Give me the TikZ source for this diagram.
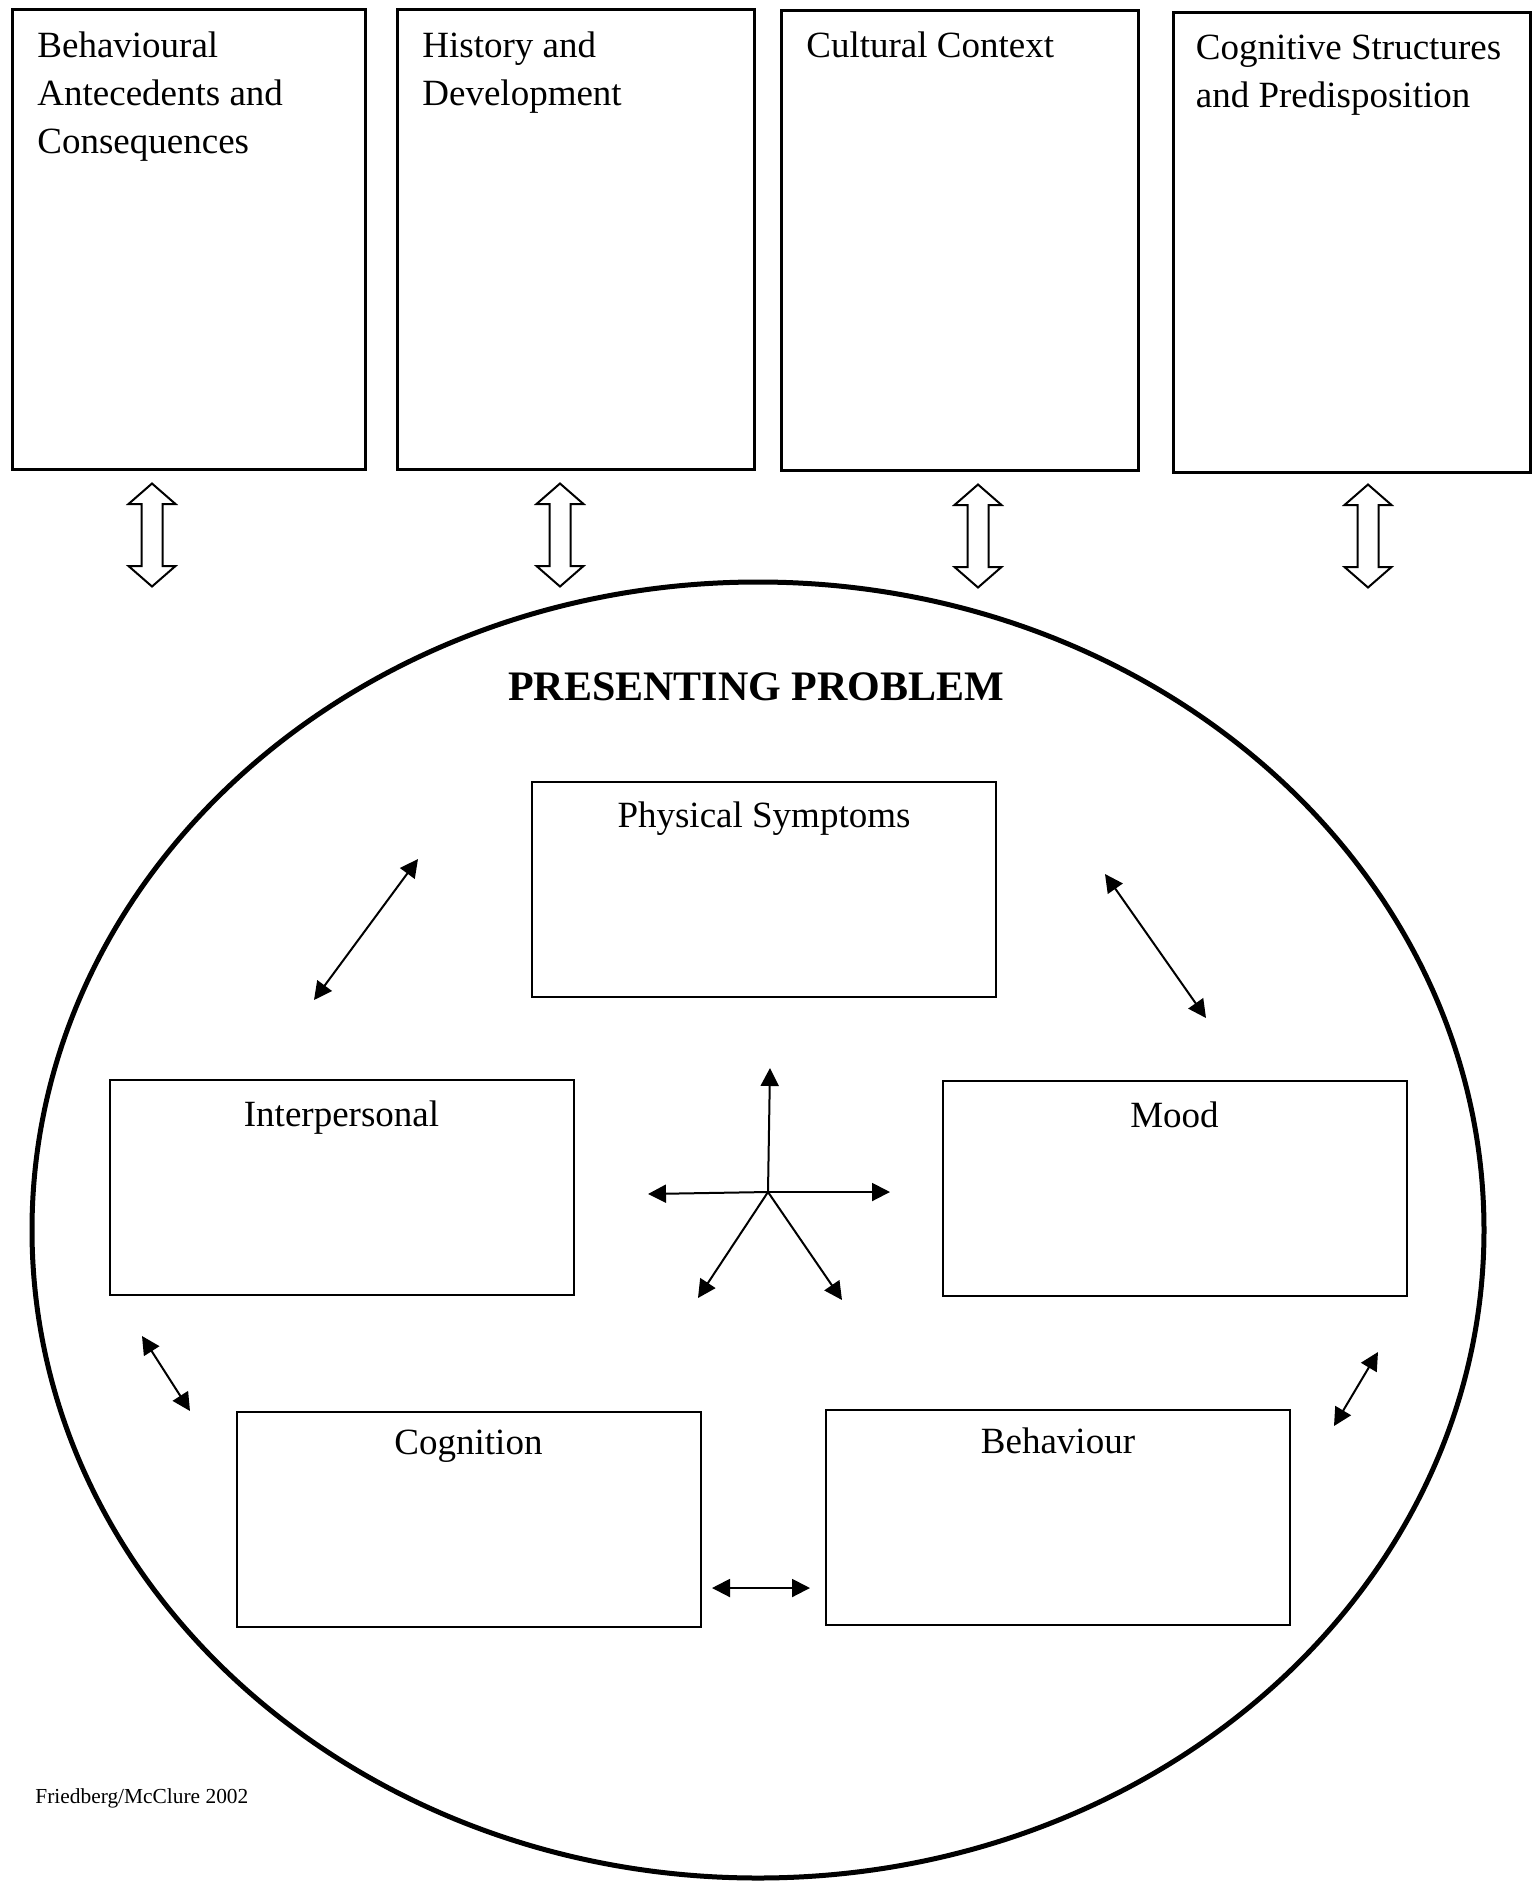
\documentclass[tikz,border=0pt]{standalone}
\usepackage{fontspec}
\setmainfont{Liberation Serif}
\usepackage{tikz}
\usetikzlibrary{positioning, calc, arrows.meta}
\tikzset{
    base/.style={
        font=\fontsize{18.5pt}{24pt}\selectfont,
        inner sep=0pt
    },
    contextbox/.style={
        rectangle,
        draw=black,
        line width=1.5pt,
        minimum width=178.5pt,
        minimum height=230pt
    },
    facet/.style={
        rectangle,
        draw=black,
        line width=1pt,
        minimum width=232pt,
        minimum height=107.5pt
    },
    heading/.style={
        base,
        align=left,
        anchor=north west
    },
    caption/.style={
        base,
        anchor=base
    },
    link/.style={
        {Triangle[length=9pt, width=9pt]}-{Triangle[length=9pt, width=9pt]},
        line width=1pt
    },
    ray/.style={
        -{Triangle[length=9pt, width=9pt]},
        line width=1pt
    },
    hollow/.pic={
        \draw[line width=1pt] (0,-51.5) -- (23.5,-31) -- (10.5,-31) -- (10.5,31) -- (23.5,31) -- (0,51.5)
            -- (-23.5,31) -- (-10.5,31) -- (-10.5,-31) -- (-23.5,-31) -- cycle;
    }
}

\begin{document}
\begin{tikzpicture}[x=0.5pt, y=-0.5pt]
  \useasboundingbox (0,0) rectangle (1538,1881);

  % Outer context boxes
  \node[contextbox, minimum width=176.5pt] (antec) at (189,239.5) {};
  \node[contextbox] (hist) at (576,239.5) {};
  \node[contextbox] (cult) at (960,240) {};
  \node[contextbox] (cogstr) at (1351.5,242) {};

  \node[heading] (antecT) at ([xshift=13pt, yshift=-11.5pt]antec.north west) {Behavioural\\Antecedents and\\Consequences};
  \node[heading] (histT) at ([xshift=13pt, yshift=-11.5pt]hist.north west) {History and\\Development};
  \node[heading] (cultT) at ([xshift=13pt, yshift=-11.5pt]cult.north west) {Cultural Context};
  \node[heading] (cogstrT) at ([xshift=12pt, yshift=-12pt]cogstr.north west) {Cognitive Structures\\and Predisposition};

  % Hollow links
  \pic at (152,535) {hollow};
  \pic at (560,535) {hollow};
  \pic at (978,536) {hollow};
  \pic at (1368,536) {hollow};

  % Presenting problem
  \draw[line width=2.5pt] (758,1230) ellipse [x radius=726, y radius=648];
  \node[caption, font=\fontsize{21pt}{24pt}\selectfont\bfseries] (probT) at (756,700) {PRESENTING PROBLEM};

  % Facets
  \node[facet] (phys) at (764,889) {};
  \node[facet] (inter) at (341.5,1187) {};
  \node[facet] (mood) at (1174.5,1188) {};
  \node[facet] (cogn) at (468.5,1519) {};
  \node[facet] (behav) at (1058,1517.5) {};

  \node[caption] (physT) at ([yshift=-23.3pt]phys.north) {Physical Symptoms};
  \node[caption] (interT) at ([yshift=-23.9pt]inter.north) {Interpersonal};
  \node[caption] (moodT) at ([yshift=-23.9pt]mood.north) {Mood};
  \node[caption] (cognT) at ([yshift=-22.2pt]cogn.north) {Cognition};
  \node[caption] (behavT) at ([yshift=-22.3pt]behav.north) {Behaviour};

  % Two-way links
  \coordinate (ip1) at (314,1000);
  \coordinate (ip2) at (418,859);
  \coordinate (pm1) at (1105,874);
  \coordinate (pm2) at (1206,1018);
  \coordinate (ic1) at (142,1336);
  \coordinate (ic2) at (190,1411);
  \coordinate (mb1) at (1378,1352);
  \coordinate (mb2) at (1334,1426);
  \coordinate (cb1) at (712,1588);
  \coordinate (cb2) at (810,1588);

  \draw[link] (ip1) -- (ip2);
  \draw[link] (pm1) -- (pm2);
  \draw[link] (ic1) -- (ic2);
  \draw[link] (mb1) -- (mb2);
  \draw[link] (cb1) -- (cb2);

  % Star
  \coordinate (hub) at (768,1192);
  \coordinate (s1) at (770,1068);
  \coordinate (s2) at (648,1194);
  \coordinate (s3) at (890,1192);
  \coordinate (s4) at (698,1298);
  \coordinate (s5) at (842,1300);
  \foreach \s in {s1, s2, s3, s4, s5}
    \draw[ray] (hub) -- (\s);

  % Credit
  \node[base, font=\fontsize{10.7pt}{12pt}\selectfont, anchor=base west] (credit) at (35,1803) {Friedberg/McClure 2002};

\end{tikzpicture}
\end{document}
